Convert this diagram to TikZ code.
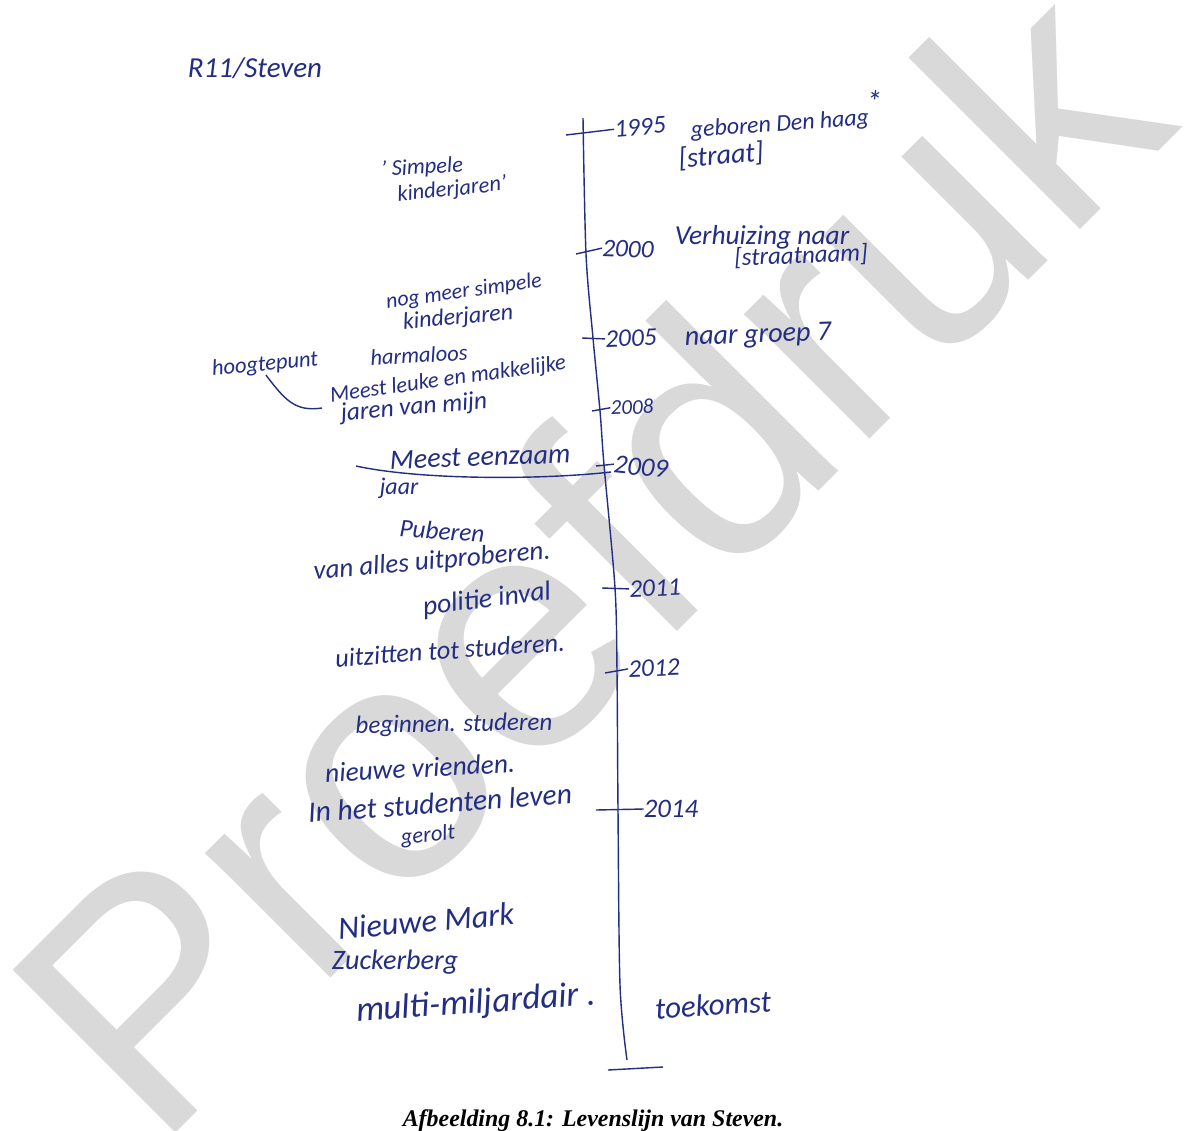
\documentclass[tikz,border=0pt]{standalone}
\usepackage{fontspec}
\usepackage{xcolor}
\setmainfont{Carlito}
\newfontfamily\capfont{Liberation Serif}
\newfontfamily\markfont{Liberation Sans}
\definecolor{inkblue}{RGB}{35,45,130}
\definecolor{markgray}{RGB}{217,217,217}
\tikzset{
  hand/.style={text=inkblue,inner sep=0pt,font=\itshape\fontsize{#1}{#1}\selectfont},
  hand/.default=16,
  pen/.style={draw=inkblue,line width=1pt}
}

\begin{document}
\begin{tikzpicture}[x=0.025cm,y=-0.025cm]
  \useasboundingbox (0,0) rectangle (1188,1130);
  \clip (0,0) rectangle (1188,1130);
  \fill[white] (0,0) rectangle (1188,1130);
  \node[text=markgray,inner sep=0pt,rotate=45,font=\markfont\fontsize{238}{238}\selectfont] (proefdruk) at (585,555) {Proefdruk};

  % the line of life
  \draw[pen] plot[smooth] coordinates {(583,118) (586,254) (593,338) (600,411) (604,465) (615,588) (617,672) (618,810) (620,985) (627,1060)};
  \foreach \yr/\fs/\px/\py/\ang/\xa/\ya in {1995/18/640/127/5/566/135,2000/18/628/249/-2/576/254,2005/18/631/338/2/582/338,2008/15/632/407/2/592/411,2009/19/641/467/-6/596/466,2011/18/655/588/2/602/588,2012/18/654/668/2/605/673,2014/19/671/809/0/596/810} {
    \node[hand=\fs,rotate=\ang] (y\yr) at (\px,\py) {\yr};
    \draw[pen] (\xa,\ya) -- (y\yr.west);
  }
  \coordinate (endleft) at (608,1070);
  \coordinate (endright) at (663,1067);
  \draw[pen] (endleft) -- (endright);

  % right of the line
  \node[hand=17,rotate=4] (born) at (780,125) {geboren Den haag};
  \node[hand=22] (star) at (874,102) {*};
  \node[hand=20,rotate=5] (straat) at (721,156) {[straat]};
  \node[hand=19.5] (move) at (762,237) {Verhuizing naar};
  \node[hand=17.7,rotate=2] (straatnaam) at (801,256) {[straatnaam]};
  \node[hand=20,rotate=2] (groep) at (758,336) {naar groep 7};
  \node[hand=22,rotate=4] (future) at (713,1005) {toekomst};

  % left of the line
  \node[hand=20.6] (who) at (255,68) {R11/Steven};
  \node[hand,rotate=3] (simple) at (422,168) {' Simpele};
  \node[hand,rotate=6] (child) at (452,190) {kinderjaren'};
  \node[hand=15.5,rotate=8] (more) at (464,292) {nog meer simpele};
  \node[hand=17,rotate=5] (childmore) at (458,318) {kinderjaren};
  \node[hand,rotate=3] (harm) at (419,355) {harmaloos};
  \node[hand,rotate=5] (top) at (265,365) {hoogtepunt};
  \node[hand,rotate=8] (fun) at (448,380) {Meest leuke en makkelijke};
  \node[hand=18,rotate=5] (years) at (414,408) {jaren van mijn};
  \coordinate (hookend) at (322,408);
  \draw[pen] (top.south) .. controls (285,400) and (295,412) .. (hookend);
  \node[hand=20,rotate=2] (lonely) at (480,457) {Meest eenzaam};
  \node[hand=17] (jaar) at (399,488) {jaar};
  \coordinate (sepleft) at (356,466);
  \coordinate (sepright) at (611,472);
  \draw[pen] (sepleft) .. controls (420,480) and (540,480) .. (sepright);
  \node[hand=18,rotate=-4] (puber) at (442,531) {Puberen};
  \node[hand=19.2,rotate=5] (try) at (432,562) {van alles uitproberen.};
  \node[hand=19.6,rotate=7] (police) at (487,600) {politie inval};
  \node[hand=18.7,rotate=4] (wait) at (450,650) {uitzitten tot studeren.};
  \node[hand=17.8,rotate=1] (start) at (454,725) {beginnen. studeren};
  \node[hand=19.5,rotate=3] (friends) at (420,768) {nieuwe vrienden.};
  \node[hand=21,rotate=4] (life) at (440,803) {In het studenten leven};
  \node[hand,rotate=6] (rolled) at (428,836) {gerolt};
  \node[hand=23,rotate=5] (mark) at (426,921) {Nieuwe Mark};
  \node[hand=20] (zuck) at (395,962) {Zuckerberg};
  \node[hand=25,rotate=4] (multi) at (476,1004) {multi-miljardair .};

  \node[inner sep=0pt,font=\capfont\bfseries\itshape\fontsize{17}{17}\selectfont] (caption) at (593,1121) {Afbeelding 8.1: Levenslijn van Steven.};
\end{tikzpicture}
\end{document}
